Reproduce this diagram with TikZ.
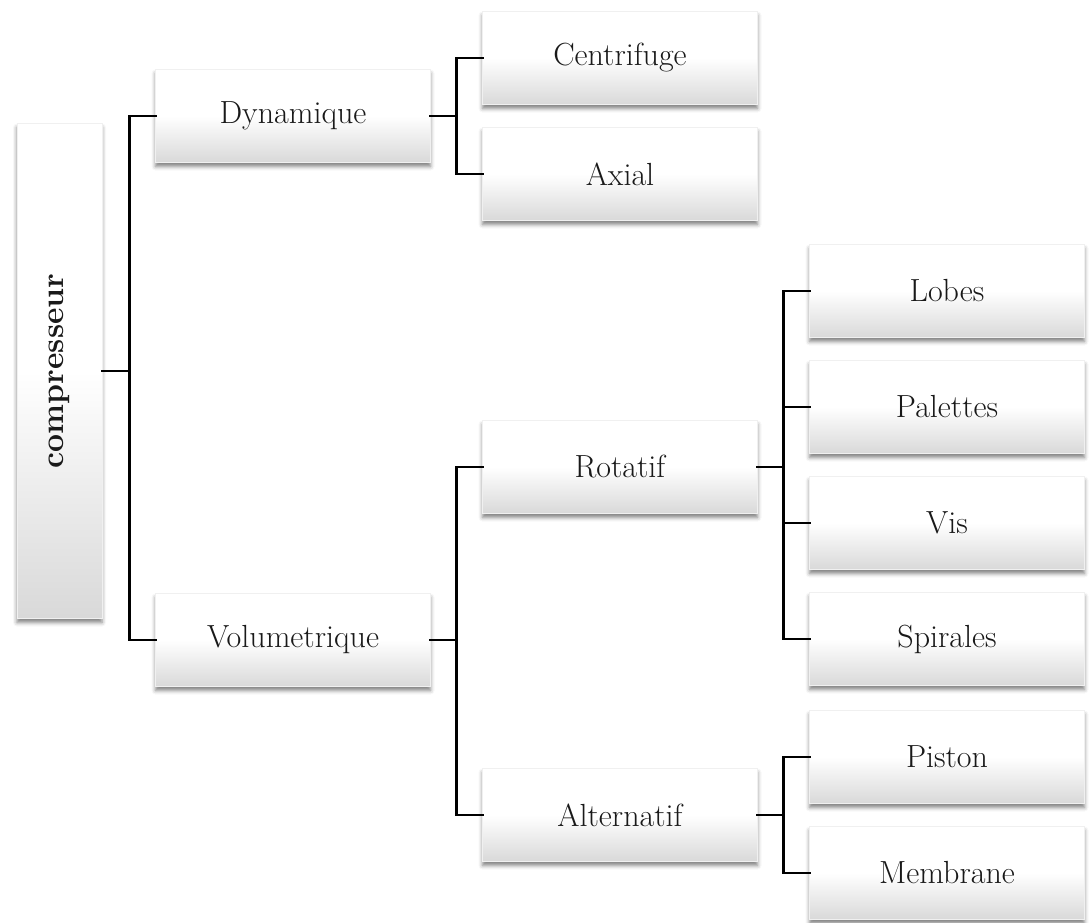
\documentclass[tikz,border=0pt]{standalone}
\usetikzlibrary{shadows.blur}
\tikzset{
  box/.style={draw=black!6, line width=0.6pt, top color=white, bottom color=black!15, middle color=white,
    minimum width=275pt, minimum height=93pt, inner sep=0pt,
    font=\fontsize{32}{38}\selectfont, text=black!90,
    blur shadow={shadow xshift=0pt, shadow yshift=-4pt, shadow blur radius=4pt, shadow opacity=50}},
  link/.style={line width=2.8pt, line cap=rect}
}
\begin{document}
\begin{tikzpicture}[x=1pt, y=-1pt]
\useasboundingbox (0,0) rectangle (1090,922);
% root
\node[box, minimum width=85pt, minimum height=495pt] (comp) at (59.5,371)
  {\rotatebox{90}{\bfseries compresseur}};
% first level
\node[box] (dyn) at (293,116) {Dynamique};
\node[box] (vol) at (293,640) {Volumetrique};
% second level
\node[box] (cent) at (620,58) {Centrifuge};
\node[box] (axial) at (620,174) {Axial};
\node[box] (rot) at (620,467) {Rotatif};
\node[box] (alt) at (620,815) {Alternatif};
% third level
\node[box] (lobes) at (947,291) {Lobes};
\node[box] (pal) at (947,407) {Palettes};
\node[box] (vis) at (947,523) {Vis};
\node[box] (spir) at (947,639) {Spirales};
\node[box] (pist) at (947,757) {Piston};
\node[box] (memb) at (947,873) {Membrane};
% connectors
\draw[link] (comp.east) -- ++(27,0) coordinate (j1);
\draw[link] (j1) |- (dyn.west);
\draw[link] (j1) |- (vol.west);
\draw[link] (dyn.east) -- ++(26,0) coordinate (j2);
\draw[link] (j2) |- (cent.west);
\draw[link] (j2) |- (axial.west);
\draw[link] (vol.east) -- ++(26,0) coordinate (j3);
\draw[link] (j3) |- (rot.west);
\draw[link] (j3) |- (alt.west);
\draw[link] (rot.east) -- ++(26,0) coordinate (j4);
\foreach \n in {lobes,pal,vis,spir} \draw[link] (j4) |- (\n.west);
\draw[link] (alt.east) -- ++(26,0) coordinate (j5);
\draw[link] (j5) |- (pist.west);
\draw[link] (j5) |- (memb.west);
\end{tikzpicture}
\end{document}
